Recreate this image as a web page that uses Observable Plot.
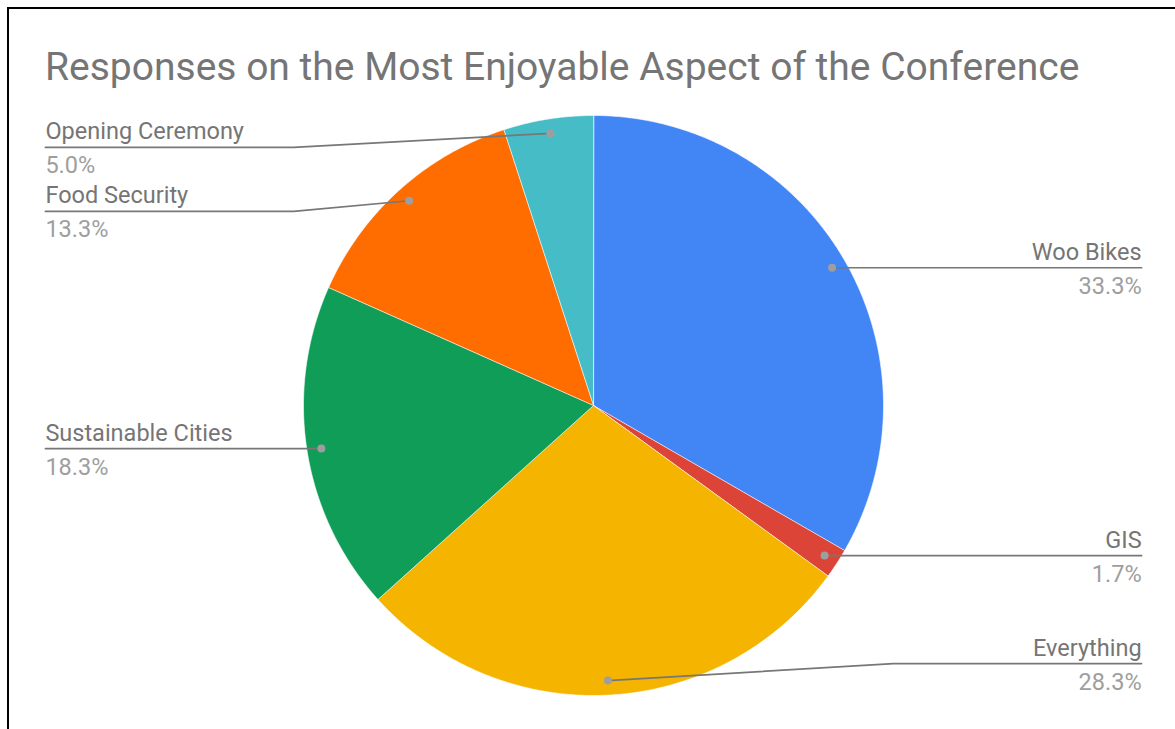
<!DOCTYPE html>
<html>
<head>
<meta charset="utf-8">
<script src="https://cdn.jsdelivr.net/npm/d3@7"></script>
<script src="https://cdn.jsdelivr.net/npm/@observablehq/plot@0.6"></script>
<style>
  html, body { margin: 0; padding: 0; background: #fff; }
  body { width: 1175px; height: 729px; overflow: hidden; position: relative; font-family: Roboto, "Noto Sans", sans-serif; }
  #frame { position: absolute; left: 7px; top: 7px; width: 1200px; height: 760px; border-left: 2px solid #000; border-top: 2px solid #000; box-sizing: border-box; pointer-events: none; }
  #title { position: absolute; left: 45px; top: 48px; font-size: 39px; line-height: 39px; color: #757575; white-space: nowrap; }
  #chart { position: absolute; left: 0; top: 0; }
</style>
</head>
<body>
<div id="chart"></div>
<div id="title">Responses on the Most Enjoyable Aspect of the Conference</div>
<div id="frame"></div>
<script>
// ---- data ----
const categories = ["Woo Bikes", "GIS", "Everything", "Sustainable Cities", "Food Security", "Opening Ceremony"];
const counts = [20, 1, 17, 11, 8, 3];
const colors = ["#4285F4", "#DB4437", "#F4B400", "#0F9D58", "#FF6D00", "#46BDC6"];

// ---- layout ----
const W = 1175, H = 729;
const R = 290, CX = 593, CY = 405;      // pie radius and centre (px)
const dotR = 0.95;                       // leader dot at 95% of radius
const bendX = 1.034, endX = 1.89;        // leader bend / end (in radii)
const clampY = 0.89, gapY = 64 / R;      // label line constraints
const labelSize = 23.5;

const total = d3.sum(counts);
let acc = 0;
const slices = categories.map((c, i) => {
  const a0 = acc / total * 2 * Math.PI;
  acc += counts[i];
  const a1 = acc / total * 2 * Math.PI;
  const mid = (a0 + a1) / 2;
  return {
    name: c, value: counts[i], color: colors[i], a0, a1, mid,
    pct: (counts[i] / total * 100).toFixed(1) + "%",
    dx: dotR * Math.sin(mid), dy: dotR * Math.cos(mid),
    side: Math.sin(mid) >= 0 ? 1 : -1
  };
});

// polygon points for each slice (angle clockwise from top)
const slicePts = slices.map(s => {
  const pts = [{x: 0, y: 0}];
  const n = Math.max(2, Math.ceil((s.a1 - s.a0) / (Math.PI / 360)));
  for (let k = 0; k <= n; k++) {
    const a = s.a0 + (s.a1 - s.a0) * k / n;
    pts.push({x: Math.sin(a), y: Math.cos(a)});
  }
  return pts;
});

// label line y positions
slices.forEach(s => { s.ly = Math.max(-clampY, Math.min(clampY, s.dy)); });
[1, -1].forEach(side => {
  const group = slices.filter(s => s.side === side).sort((a, b) => b.ly - a.ly);
  for (let i = 1; i < group.length; i++) {
    if (group[i].ly > group[i - 1].ly - gapY) group[i].ly = group[i - 1].ly - gapY;
  }
});

const leaders = slices.flatMap(s => [
  {name: s.name, x: s.dx, y: s.dy},
  {name: s.name, x: s.side * bendX, y: s.ly},
  {name: s.name, x: s.side * endX, y: s.ly}
]);

const marks = [];
slices.forEach((s, i) => {
  marks.push(Plot.line(slicePts[i], {x: "x", y: "y", fill: s.color, stroke: "#fff", strokeWidth: 0.6, curve: "linear-closed"}));
});
marks.push(Plot.line(leaders, {x: "x", y: "y", z: "name", stroke: "#777", strokeWidth: 1.7}));
marks.push(Plot.dot(slices, {x: "dx", y: "dy", r: 4, fill: "#9e9e9e", stroke: "none"}));
[1, -1].forEach(side => {
  const group = slices.filter(s => s.side === side);
  const anchor = side > 0 ? "end" : "start";
  marks.push(Plot.text(group, {
    x: d => d.side * endX, y: "ly", text: "name",
    textAnchor: anchor, lineAnchor: "bottom", dy: -8, fontSize: labelSize, fill: "#757575"
  }));
  marks.push(Plot.text(group, {
    x: d => d.side * endX, y: "ly", text: "pct",
    textAnchor: anchor, lineAnchor: "bottom", dy: 26, fontSize: labelSize, fill: "#9e9e9e"
  }));
});

const chart = Plot.plot({
  width: W, height: H,
  margin: 0,
  style: {fontFamily: "Roboto, 'Noto Sans', sans-serif", background: "transparent"},
  x: {domain: [(0 - CX) / R, (W - CX) / R], axis: null},
  y: {domain: [(CY - H) / R, CY / R], axis: null},
  marks
});
document.getElementById("chart").appendChild(chart);
</script>
</body>
</html>
